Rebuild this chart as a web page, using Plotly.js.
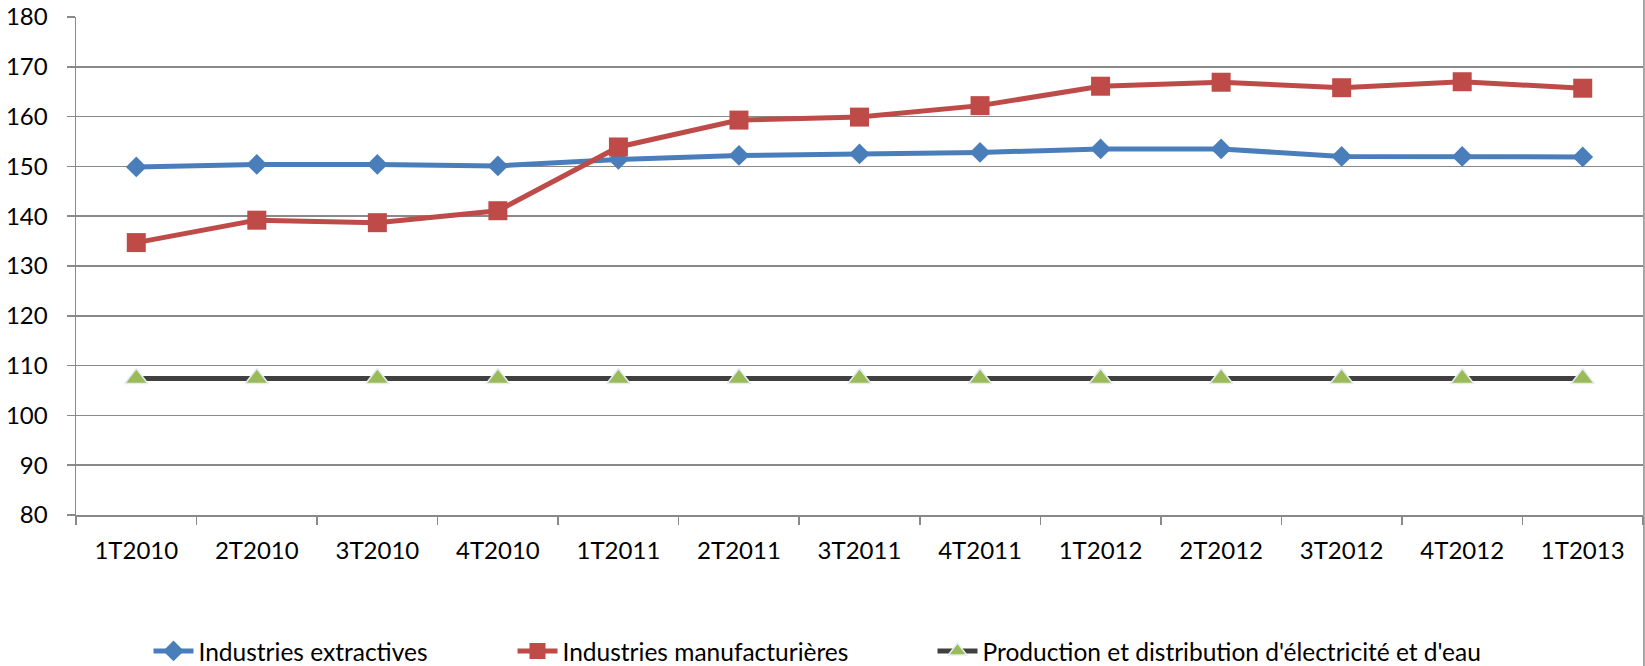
<!DOCTYPE html>
<html>
<head>
<meta charset="utf-8">
<script src="https://cdn.plot.ly/plotly-3.0.1.min.js"></script>
<style>
html,body{margin:0;padding:0;background:#fff;}
#chart{width:1645px;height:666px;}
</style>
</head>
<body>
<div id="chart"></div>
<script>
const categories = ["1T2010","2T2010","3T2010","4T2010","1T2011","2T2011","3T2011","4T2011","1T2012","2T2012","3T2012","4T2012","1T2013"];
const extractives = [149.9,150.4,150.4,150.1,151.4,152.2,152.5,152.8,153.5,153.5,152.0,152.0,151.9];
const manufacturieres = [134.7,139.2,138.7,141.1,153.9,159.3,159.9,162.2,166.1,166.9,165.8,167.0,165.7];
const electricite = [107.4,107.4,107.4,107.4,107.4,107.4,107.4,107.4,107.4,107.4,107.4,107.4,107.4];
const seriesNames = ["Industries extractives","Industries manufacturières","Production et distribution d'électricité et d'eau"];
const yTicks = [80,90,100,110,120,130,140,150,160,170,180];

const FONT = "Lato, 'Open Sans', sans-serif";
const GRID = "#898989";

const traces = [
  {
    x: categories, y: extractives, name: seriesNames[0], type: "scatter", mode: "lines+markers",
    line: {color: "#4a7ebb", width: 5},
    marker: {symbol: "diamond", size: 16, color: "#4a7ebb"},
    legend: "legend", showlegend: true
  },
  {
    x: categories, y: manufacturieres, name: seriesNames[1], type: "scatter", mode: "lines+markers",
    line: {color: "#be4b48", width: 5},
    marker: {symbol: "square", size: 19, color: "#be4b48"},
    legend: "legend2", showlegend: true
  },
  {
    x: categories, y: electricite, name: seriesNames[2], type: "scatter", mode: "lines+markers",
    line: {color: "#404040", width: 5},
    marker: {symbol: "triangle-up", size: 20, color: "#9bbb59", line: {color: "#e4ecf5", width: 1.5}},
    legend: "legend3", showlegend: true
  }
];

const legendBase = {
  orientation: "h", yanchor: "middle", xanchor: "left",
  xref: "container", yref: "container", y: 0.0225,
  font: {family: FONT, size: 24.5, color: "#000"}, bgcolor: "rgba(0,0,0,0)",
  itemwidth: 40, tracegroupgap: 0
};

const layout = {
  width: 1645, height: 666,
  showlegend: true,
  margin: {l: 76, r: 2, t: 17, b: 151},
  paper_bgcolor: "#fff", plot_bgcolor: "#fff",
  font: {family: FONT, size: 24, color: "#000"},
  xaxis: {
    type: "category", range: [-0.5, 12.5],
    tickson: "boundaries", ticks: "outside", ticklen: 8, tickwidth: 1.5, tickcolor: GRID,
    showline: true, linecolor: GRID, linewidth: 1.5,
    showgrid: false, ticklabelstandoff: 14,
    tickfont: {family: FONT, size: 24, color: "#000"}
  },
  yaxis: {
    range: [80, 180], tickvals: yTicks, ticktext: yTicks.map(String),
    ticks: "outside", ticklen: 8, tickwidth: 1.5, tickcolor: GRID,
    showline: true, linecolor: GRID, linewidth: 1.5,
    showgrid: true, gridcolor: GRID, gridwidth: 1.5, zeroline: false,
    ticklabelstandoff: 14,
    tickfont: {family: FONT, size: 24, color: "#000"}
  },
  legend: Object.assign({}, legendBase, {x: 148.5 / 1645}),
  legend2: Object.assign({}, legendBase, {x: 512.5 / 1645}),
  legend3: Object.assign({}, legendBase, {x: 932.5 / 1645}),
  shapes: [
    {type: "line", xref: "paper", yref: "paper", x0: 1.0006, x1: 1.0006, y0: -0.31, y1: 1.04,
     line: {color: GRID, width: 1.5}}
  ]
};

Plotly.newPlot("chart", traces, layout, {displayModeBar: false, staticPlot: true});
</script>
</body>
</html>
